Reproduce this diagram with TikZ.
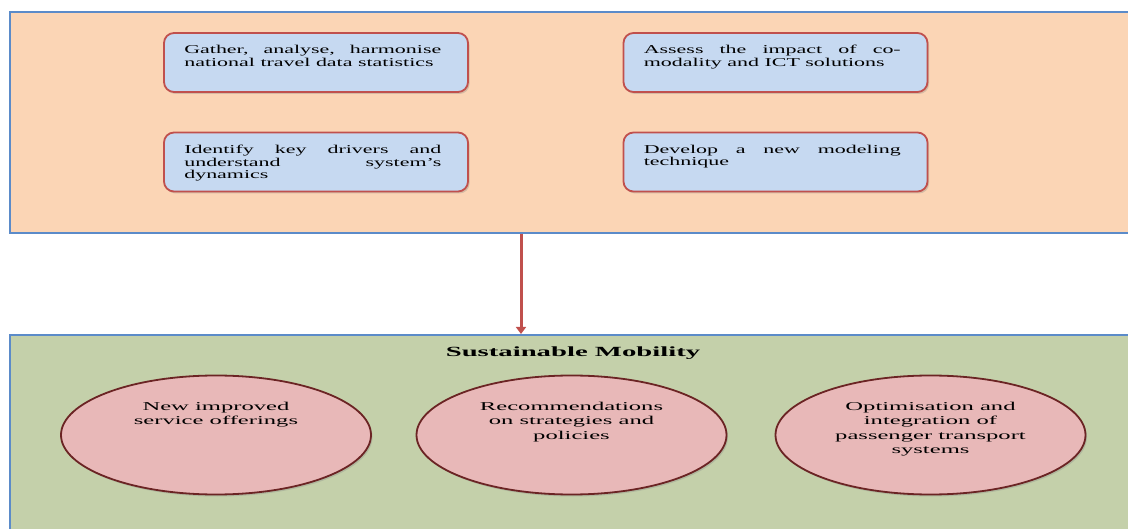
\documentclass[tikz,border=0pt]{standalone}
\usepackage{fontspec}
\setmainfont[FakeStretch=1.83]{Liberation Serif}
\newfontfamily\wideserif[FakeStretch=2.05]{Liberation Serif}
\usetikzlibrary{shapes.geometric,arrows.meta,shadows}
\definecolor{peach}{HTML}{FBD5B5}
\definecolor{panelblue}{HTML}{5B8BC9}
\definecolor{taskblue}{HTML}{C6D9F1}
\definecolor{taskred}{HTML}{C0504D}
\definecolor{sage}{HTML}{C4D0AA}
\definecolor{outcomepink}{HTML}{E8B8B8}
\definecolor{outcomered}{HTML}{6B2424}
\tikzstyle{panel}=[shape=rectangle,draw=panelblue,line width=1.6pt,anchor=north west,inner sep=0pt,minimum width=1131pt]
\tikzstyle{task}=[shape=rectangle,rounded corners=10pt,draw=taskred,line width=1.8pt,fill=taskblue,minimum width=304pt,minimum height=59pt,drop shadow={shadow xshift=1.5pt,shadow yshift=-2pt,opacity=.3}]
\tikzstyle{tasktext}=[anchor=north west,text width=257pt,align=justify,inner sep=0pt,font=\fontsize{12}{12.8}\selectfont]
\tikzstyle{outcome}=[shape=ellipse,draw=outcomered,fill=outcomepink,line width=1.8pt,minimum width=310pt,minimum height=119pt,drop shadow={shadow xshift=1.5pt,shadow yshift=-2pt,opacity=.3}]
\tikzstyle{outcometext}=[anchor=north,align=center,inner sep=0pt,font=\wideserif\fontsize{12}{14.6}\selectfont]
\tikzstyle{flow}=[draw=taskred,line width=3pt,-{Triangle[width=10pt,length=7pt]}]
\begin{document}
\begin{tikzpicture}[x=1pt,y=-1pt]
\useasboundingbox (0,0) rectangle (1128,529);
\clip (0,0) rectangle (1128,529);
% panels
\node[panel,fill=peach,minimum height=221pt] (top) at (9,11) {};
\node[panel,fill=sage,minimum height=210pt] (bottom) at (9,334) {};
\node[font=\wideserif\fontsize{14}{16}\selectfont\bfseries] (title) at (573,353) {Sustainable Mobility};
% tasks
\node[task] (g1) at (316,62.5) {};
\node[task] (g2) at (775.5,62.5) {};
\node[task] (g3) at (316,162) {};
\node[task] (g4) at (775.5,162) {};
\node[tasktext] (t1) at ([shift={(21,13)}]g1.north west) {Gather, analyse, harmonise\linebreak national travel data statistics};
\node[tasktext] (t2) at ([shift={(21,13)}]g2.north west) {Assess the impact of co-\linebreak modality and ICT solutions};
\node[tasktext] (t3) at ([shift={(21,13)}]g3.north west) {Identify key drivers and\linebreak understand system's\linebreak dynamics};
\node[tasktext] (t4) at ([shift={(21,13)}]g4.north west) {Develop a new modeling\linebreak technique};
% link
\coordinate (link) at (521,0);
\draw[flow] (top.south -| link) -- (bottom.north -| link);
% outcomes
\node[outcome] (o1) at (216,435) {};
\node[outcome] (o2) at (571.5,435) {};
\node[outcome] (o3) at (930.5,435) {};
\node[outcometext] (r1) at ([shift={(0,27)}]o1.north) {New improved\\service offerings};
\node[outcometext] (r2) at ([shift={(0,27)}]o2.north) {Recommendations\\on strategies and\\policies};
\node[outcometext] (r3) at ([shift={(0,27)}]o3.north) {Optimisation and\\integration of\\passenger transport\\systems};
\end{tikzpicture}
\end{document}
